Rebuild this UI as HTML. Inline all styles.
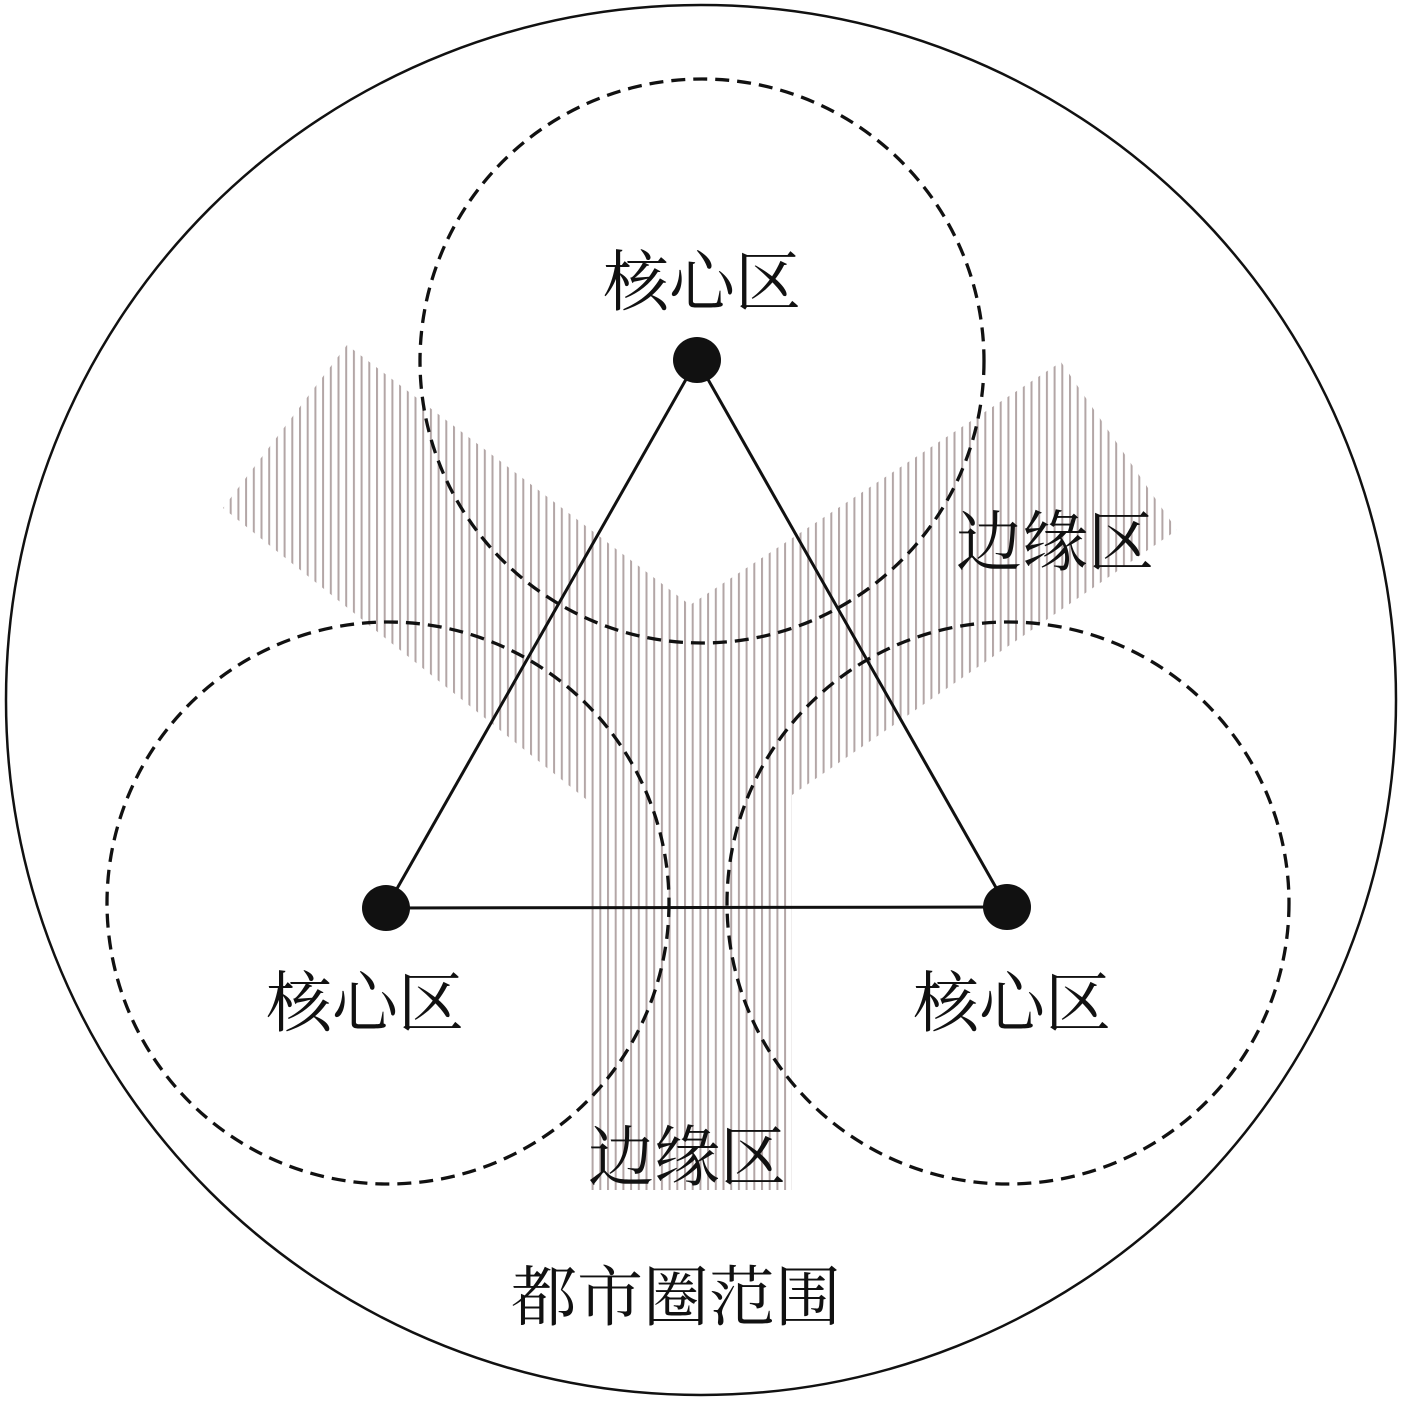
<!DOCTYPE html>
<html><head><meta charset="utf-8"><style>
html,body{margin:0;padding:0;background:#fff;width:1401px;height:1401px;overflow:hidden;}
svg{display:block;}
text{font-family:"Liberation Serif","Noto Serif CJK SC","Noto Sans CJK SC",serif;font-size:66px;fill:#111;}
</style></head><body>
<svg width="1401" height="1401" viewBox="0 0 1401 1401" xmlns="http://www.w3.org/2000/svg">
<defs>
<pattern id="st" patternUnits="userSpaceOnUse" width="7.7" height="20" x="222">
<rect x="0" y="0" width="2" height="20" fill="#b3a6a6"/>
</pattern>
</defs>
<circle cx="701" cy="700" r="695" fill="none" stroke="#111" stroke-width="2.5"/>
<polygon points="223,508 347,345 690,605 1061,362 1177,530 792,795 792,1190 587,1190 587,800" fill="url(#st)"/>
<g fill="none" stroke="#111" stroke-width="3.3" stroke-dasharray="14,8">
<circle cx="702" cy="361" r="282"/>
<circle cx="388" cy="903" r="281"/>
<circle cx="1008" cy="903" r="281"/>
</g>
<g stroke="#111" stroke-width="3">
<line x1="697" y1="360" x2="386" y2="908"/>
<line x1="697" y1="360" x2="1007" y2="907"/>
<line x1="386" y1="908" x2="1007" y2="907"/>
</g>
<ellipse cx="697" cy="360" rx="24" ry="23" fill="#111"/>
<ellipse cx="386" cy="908" rx="24" ry="23" fill="#111"/>
<ellipse cx="1007" cy="907" rx="24" ry="23" fill="#111"/>
<text x="603" y="305">核心区</text>
<text x="266" y="1026">核心区</text>
<text x="913" y="1026">核心区</text>
<text x="956" y="565">边缘区</text>
<text x="588" y="1180">边缘区</text>
<text x="511" y="1320">都市圈范围</text>
</svg>
</body></html>
